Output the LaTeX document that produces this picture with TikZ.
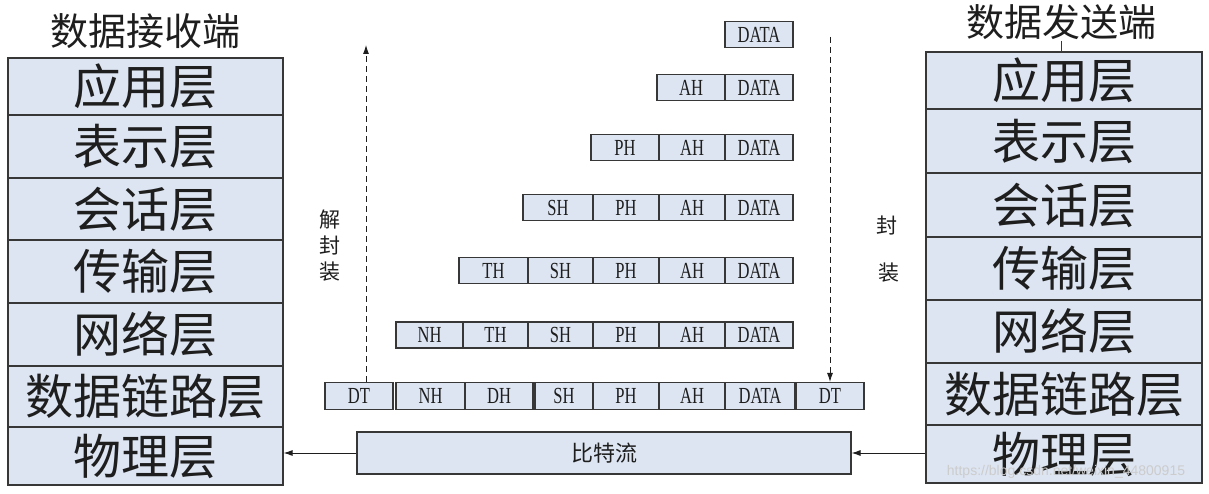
\documentclass[tikz,border=0pt]{standalone}
\usepackage{fontspec}
\setmainfont{Liberation Serif}
\newfontfamily\cjk{Noto Sans CJK SC}
\newfontfamily\pkfont{Liberation Serif}[FakeStretch=0.72]
\newfontfamily\wmfont{Liberation Sans}
\usetikzlibrary{arrows.meta}
\definecolor{boxfill}{RGB}{221,229,242}
\definecolor{boxline}{RGB}{55,55,55}
\definecolor{txt}{RGB}{30,30,30}
\tikzset{
  layer/.style={draw=boxline, line width=1.2pt, fill=boxfill, inner sep=0pt, minimum width=275pt,
    text=txt, font=\cjk\fontsize{48}{48}\selectfont},
  rlayer/.style={layer, minimum width=276pt},
  pk/.style={draw=boxline, line width=1.1pt, fill=boxfill, inner sep=0pt, minimum height=26pt,
    text=txt, font=\pkfont\fontsize{23}{23}\selectfont},
  title/.style={inner sep=1pt, text=txt, font=\cjk\fontsize{38}{38}\selectfont},
  side/.style={inner sep=0pt, text=txt, font=\cjk\fontsize{21}{26}\selectfont, align=center},
  arr/.style={line width=0.9pt, draw=txt, -{Latex[length=9pt,width=6pt]}},
  darr/.style={arr, dashed, dash pattern=on 6pt off 4pt}
}
\begin{document}
\begin{tikzpicture}[x=1pt,y=-1pt]
\fill[white] (0,0) rectangle (1209,494);
\useasboundingbox (0,0) rectangle (1209,494);

% titles
\node[title] (TL) at (145,31) {数据接收端};
\node[title] (TR) at (1061,22) {数据发送端};

% receiver stack (left)
\node[layer, minimum height=57pt] (L1) at (145.5,86.5) {应用层};
\node[layer, minimum height=63pt] (L2) at (145.5,146.5) {表示层};
\node[layer, minimum height=62pt] (L3) at (145.5,209) {会话层};
\node[layer, minimum height=63pt] (L4) at (145.5,271.5) {传输层};
\node[layer, minimum height=63pt] (L5) at (145.5,334.5) {网络层};
\node[layer, minimum height=61pt] (L6) at (145.5,396.5) {数据链路层};
\node[layer, minimum height=58pt] (L7) at (145.5,456) {物理层};

% sender stack (right)
\node[rlayer, minimum height=57pt] (R1) at (1064,80.5) {应用层};
\node[rlayer, minimum height=64pt] (R2) at (1064,141) {表示层};
\node[rlayer, minimum height=64pt] (R3) at (1064,205) {会话层};
\node[rlayer, minimum height=63pt] (R4) at (1064,268.5) {传输层};
\node[rlayer, minimum height=63pt] (R5) at (1064,331.5) {网络层};
\node[rlayer, minimum height=62pt] (R6) at (1064,394) {数据链路层};
\node[rlayer, minimum height=58pt] (R7) at (1064,454) {物理层};

\draw[line width=0.8pt, draw=boxline] (TR.south) -- (TR.south |- R1.north);

% packet rows
% row 1
\node[pk, minimum width=68pt] (A1) at (759,34.5) {DATA};
% row 2
\node[pk, minimum width=68pt] (B2) at (691,87.5) {AH};
\node[pk, minimum width=68pt] (A2) at (759,87.5) {DATA};
% row 3
\node[pk, minimum width=68pt] (C3) at (625,147.5) {PH};
\node[pk, minimum width=66pt] (B3) at (692,147.5) {AH};
\node[pk, minimum width=68pt] (A3) at (759,147.5) {DATA};
% row 4
\node[pk, minimum width=70pt] (D4) at (558,207.5) {SH};
\node[pk, minimum width=66pt] (C4) at (626,207.5) {PH};
\node[pk, minimum width=66pt] (B4) at (692,207.5) {AH};
\node[pk, minimum width=68pt] (A4) at (759,207.5) {DATA};
% row 5
\node[pk, minimum width=69pt] (E5) at (493.5,270.5) {TH};
\node[pk, minimum width=65pt] (D5) at (560.5,270.5) {SH};
\node[pk, minimum width=66pt] (C5) at (626,270.5) {PH};
\node[pk, minimum width=66pt] (B5) at (692,270.5) {AH};
\node[pk, minimum width=68pt] (A5) at (759,270.5) {DATA};
% row 6
\node[pk, minimum width=67pt] (F6) at (429.5,335) {NH};
\node[pk, minimum width=65pt] (E6) at (495.5,335) {TH};
\node[pk, minimum width=65pt] (D6) at (560.5,335) {SH};
\node[pk, minimum width=66pt] (C6) at (626,335) {PH};
\node[pk, minimum width=66pt] (B6) at (692,335) {AH};
\node[pk, minimum width=68pt] (A6) at (759,335) {DATA};
% row 7
\node[pk, minimum width=68pt, minimum height=27pt] (T7a) at (359,396) {DT};
\node[pk, minimum width=69pt, minimum height=27pt] (F7) at (430.5,396) {NH};
\node[pk, minimum width=68pt, minimum height=27pt] (G7) at (499,396) {DH};
\node[pk, minimum width=58pt, minimum height=27pt] (D7) at (564,396) {SH};
\node[pk, minimum width=66pt, minimum height=27pt] (C7) at (626,396) {PH};
\node[pk, minimum width=66pt, minimum height=27pt] (B7) at (692,396) {AH};
\node[pk, minimum width=70pt, minimum height=27pt] (A7) at (760,396) {DATA};
\node[pk, minimum width=68pt, minimum height=27pt] (T7b) at (830,396) {DT};

% bit stream
\node[pk, minimum width=494pt, minimum height=42pt, font=\cjk\fontsize{22}{22}\selectfont] (BS) at (604,453) {比特流};

% physical connectors
\draw[arr] (BS.west) -- (BS.west -| L7.east);
\draw[arr] (R7.west |- BS.east) -- (BS.east);

% dashed encapsulation arrows
\coordinate (UP) at (366,45);
\coordinate (DN) at (830,37);
\draw[darr] (UP |- T7a.north) -- (UP);
\draw[darr] (DN) -- (T7b.north);

% side labels
\node[side] (DEC) at (330,246) {解\\封\\装};
\node[side] (ENC1) at (887,225) {封};
\node[side] (ENC2) at (889,273) {装};

% watermark
\node[inner sep=0pt, text=black!20, font=\wmfont\fontsize{14}{14}\selectfont] (WM) at (1066,472) {https://blog.csdn.net/weixin\_44800915};
\end{tikzpicture}
\end{document}
